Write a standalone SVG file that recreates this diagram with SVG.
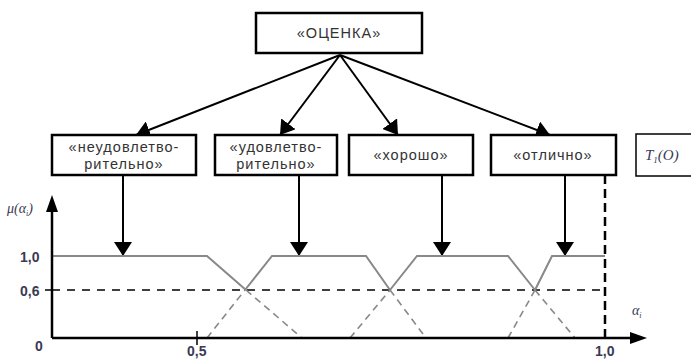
<svg xmlns="http://www.w3.org/2000/svg" width="691" height="360" viewBox="0 0 691 360">
<style>
.box{fill:#fff;stroke:#000;stroke-width:2.5}
.t{font-family:"Liberation Sans",Arial,sans-serif;font-size:14.5px;fill:#333;text-anchor:middle;letter-spacing:1px}
.arr{stroke:#000;stroke-width:2;fill:none}
.mf{stroke:#888;stroke-width:2;fill:none}
.mfd{stroke:#888;stroke-width:1.6;fill:none;stroke-dasharray:7 5}
.lab{font-family:"Liberation Sans",Arial,sans-serif;font-size:14px;font-weight:bold;fill:#3a3a55}
.it{font-family:"Liberation Serif","Times New Roman",serif;font-style:italic;fill:#3a3a55}
</style>
<defs>
<marker id="ah" viewBox="0 0 14 18" refX="14" refY="9" markerWidth="14" markerHeight="18" markerUnits="userSpaceOnUse" orient="auto">
<path d="M0,0 L14,9 L0,18 Z" fill="#000"/>
</marker>
</defs>
<g id="connectors">
<line class="arr" x1="340" y1="55" x2="136" y2="135" marker-end="url(#ah)"/>
<line class="arr" x1="340" y1="55" x2="280" y2="135" marker-end="url(#ah)"/>
<line class="arr" x1="340" y1="55" x2="398" y2="135" marker-end="url(#ah)"/>
<line class="arr" x1="340" y1="55" x2="550" y2="135" marker-end="url(#ah)"/>
<line class="arr" x1="123" y1="175" x2="123" y2="256" marker-end="url(#ah)"/>
<line class="arr" x1="299" y1="175" x2="299" y2="256" marker-end="url(#ah)"/>
<line class="arr" x1="442" y1="175" x2="442" y2="256" marker-end="url(#ah)"/>
<line class="arr" x1="565" y1="175" x2="565" y2="256" marker-end="url(#ah)"/>
</g>
<g id="root">
<rect class="box" x="256" y="13" width="166" height="40"/>
<text class="t" x="339" y="38">«ОЦЕНКА»</text>
</g>
<g id="n1">
<rect class="box" x="52" y="135" width="144" height="40"/>
<text class="t" x="124" y="152">«неудовлетво-</text>
<text class="t" x="124" y="169">рительно»</text>
</g>
<g id="n2">
<rect class="box" x="215" y="135" width="122" height="40"/>
<text class="t" x="276" y="152">«удовлетво-</text>
<text class="t" x="276" y="169">рительно»</text>
</g>
<g id="n3">
<rect class="box" x="349" y="135" width="124" height="40"/>
<text class="t" x="411" y="160">«хорошо»</text>
</g>
<g id="n4">
<rect class="box" x="491" y="135" width="125" height="40"/>
<text class="t" x="553" y="160">«отлично»</text>
</g>
<g id="t1">
<rect fill="#fff" stroke="#000" stroke-width="1.5" x="636" y="134" width="62" height="42"/>
<text class="it" x="645" y="160" font-size="15">T<tspan font-size="9" dy="3">1</tspan><tspan dy="-3">(O)</tspan></text>
</g>
<g id="chart">
<line x1="52" y1="290" x2="605" y2="290" stroke="#000" stroke-width="1.5" stroke-dasharray="8 7"/>
<line x1="45" y1="290" x2="52" y2="290" stroke="#000" stroke-width="1.5"/>
<line x1="605" y1="175" x2="605" y2="338" stroke="#000" stroke-width="2.5" stroke-dasharray="9 5"/>
<polyline class="mf" points="52,256 207,256 246,290"/>
<line class="mfd" x1="246" y1="290" x2="302" y2="338"/>
<line class="mfd" x1="207" y1="338" x2="245" y2="290"/>
<polyline class="mf" points="245,290 272,256 366,256 390,290"/>
<line class="mfd" x1="390" y1="290" x2="426" y2="338"/>
<line class="mfd" x1="350" y1="338" x2="390" y2="290"/>
<polyline class="mf" points="390,290 417,256 508,256 535,290"/>
<line class="mfd" x1="535" y1="290" x2="575" y2="338"/>
<line class="mfd" x1="508" y1="338" x2="535" y2="290"/>
<polyline class="mf" points="535,290 552,256 605,256"/>
<line x1="52" y1="338" x2="52" y2="208" stroke="#000" stroke-width="2.5"/>
<path d="M52,195 L46,212 L58,212 Z" fill="#000"/>
<line x1="52" y1="338" x2="632" y2="338" stroke="#000" stroke-width="2.5"/>
<path d="M647,338 L630,332 L630,344 Z" fill="#000"/>
<line x1="197" y1="331" x2="197" y2="345" stroke="#000" stroke-width="1.5"/>
<text class="lab" x="20" y="262">1,0</text>
<text class="lab" x="20" y="296">0,6</text>
<text class="lab" x="35" y="351">0</text>
<text class="lab" x="187" y="356" font-size="13" font-weight="normal">0,5</text>
<text class="lab" x="595" y="356" font-size="13" font-weight="normal">1,0</text>
<text class="it" x="7" y="213" font-size="14">μ(α<tspan font-size="8" dy="3">i</tspan><tspan dy="-3">)</tspan></text>
<text class="it" x="632" y="315" font-size="14">α<tspan font-size="8" dy="3">i</tspan></text>
</g>
</svg>
